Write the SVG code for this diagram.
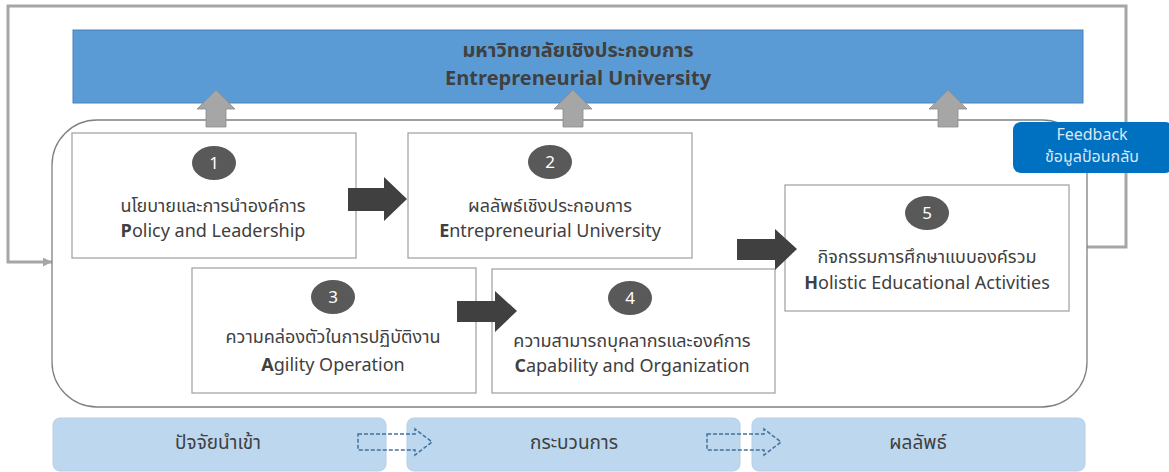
<svg xmlns="http://www.w3.org/2000/svg" width="1169" height="472" viewBox="0 0 1169 472">
<style>
  text { font-family: "Noto Sans Thai", "Noto Sans", "Liberation Sans", sans-serif; fill: #404040; text-anchor: middle; }
  .box { fill: #ffffff; stroke: #a6a6a6; stroke-width: 1.3; }
  .badge { fill: #595959; }
  .badgetxt { fill: #ffffff; font-size: 17px; }
  .lbl { font-size: 18px; }
  .banner { font-size: 20px; font-weight: bold; }
  .bar { fill: #bdd7ee; stroke: #b4cfe8; stroke-width: 1; }
  .bartxt { font-size: 19px; }
  .up { fill: #a6a6a6; stroke: #8c8c8c; stroke-width: 0.8; }
  .blk { fill: #404040; }
  .dash { fill: none; stroke: #41719c; stroke-width: 1.5; stroke-dasharray: 4 2; }
  .loop { fill: none; stroke: #a6a6a6; stroke-width: 3; }
</style>
<defs>
  <marker id="ah" viewBox="0 0 10 10" refX="10" refY="5" markerWidth="3.5" markerHeight="3" orient="auto" markerUnits="strokeWidth">
    <path d="M0,0 L10,5 L0,10 Z" fill="#a6a6a6"/>
  </marker>
</defs>
<rect width="1169" height="472" fill="#ffffff"/>

<g id="connectors">
  <path class="loop" d="M1087,247 H1126 V6 H8 V262 H52" marker-end="url(#ah)"/>
</g>

<g id="banner">
  <rect x="73" y="30" width="1010" height="73" fill="#5b9bd5" stroke="#4a82b8" stroke-width="1"/>
  <text class="banner" x="578" y="57">มหาวิทยาลัยเชิงประกอบการ</text>
  <text class="banner" x="578" y="85">Entrepreneurial University</text>
</g>

<g id="container">
  <rect x="52" y="120" width="1035" height="287" rx="45" ry="45" fill="#ffffff" stroke="#808080" stroke-width="1.3"/>
</g>

<g id="up-arrows">
  <polygon class="up" points="216,90 235,109 226,109 226,127 206,127 206,109 197,109"/>
  <polygon class="up" points="573,90 592,109 583,109 583,127 563,127 563,109 554,109"/>
  <polygon class="up" points="948,90 967,109 958,109 958,127 938,127 938,109 929,109"/>
</g>

<g id="feedback">
  <rect x="1013" y="122" width="160" height="51" rx="8" ry="8" fill="#0070c0"/>
  <text x="1092" y="140" style="fill:#dce6f2;font-size:16px">Feedback</text>
  <text x="1092" y="162" style="fill:#dce6f2;font-size:16px">ข้อมูลป้อนกลับ</text>
</g>

<g id="node1">
  <rect class="box" x="72" y="133" width="284" height="125"/>
  <ellipse class="badge" cx="214" cy="163" rx="22" ry="17"/>
  <text class="badgetxt" x="214" y="169">1</text>
  <text class="lbl" x="213" y="212">นโยบายและการนำองค์การ</text>
  <text class="lbl" x="213" y="237"><tspan font-weight="bold">P</tspan>olicy and Leadership</text>
</g>

<g id="node2">
  <rect class="box" x="408" y="133" width="284" height="125"/>
  <ellipse class="badge" cx="550" cy="162" rx="22" ry="17"/>
  <text class="badgetxt" x="550" y="168">2</text>
  <text class="lbl" x="550" y="212">ผลลัพธ์เชิงประกอบการ</text>
  <text class="lbl" x="550" y="237"><tspan font-weight="bold">E</tspan>ntrepreneurial University</text>
</g>

<g id="node3">
  <rect class="box" x="192" y="268" width="284" height="125"/>
  <ellipse class="badge" cx="333" cy="297" rx="22" ry="17"/>
  <text class="badgetxt" x="333" y="303">3</text>
  <text class="lbl" x="333" y="343">ความคล่องตัวในการปฏิบัติงาน</text>
  <text class="lbl" x="333" y="371"><tspan font-weight="bold">A</tspan>gility Operation</text>
</g>

<g id="node4">
  <rect class="box" x="492" y="269" width="283" height="124"/>
  <ellipse class="badge" cx="630" cy="298" rx="22" ry="17"/>
  <text class="badgetxt" x="630" y="304">4</text>
  <text class="lbl" x="632" y="347">ความสามารถบุคลากรและองค์การ</text>
  <text class="lbl" x="632" y="372"><tspan font-weight="bold">C</tspan>apability and Organization</text>
</g>

<g id="node5">
  <rect class="box" x="785" y="185" width="284" height="126"/>
  <ellipse class="badge" cx="927" cy="213" rx="22" ry="17"/>
  <text class="badgetxt" x="927" y="219">5</text>
  <text class="lbl" x="927" y="263">กิจกรรมการศึกษาแบบองค์รวม</text>
  <text class="lbl" x="927" y="289"><tspan font-weight="bold">H</tspan>olistic Educational Activities</text>
</g>

<g id="flow-arrows">
  <polygon class="blk" points="348,188 384,188 384,177 407,199 384,221 384,211 348,211"/>
  <polygon class="blk" points="457,301 495,301 495,291 517,311 495,332 495,322 457,322"/>
  <polygon class="blk" points="737,239 775,239 775,229 797,249 775,270 775,260 737,260"/>
</g>

<g id="bar-input">
  <rect class="bar" x="53" y="418" width="333" height="53" rx="7" ry="7"/>
  <text class="bartxt" x="218" y="449">ปัจจัยนำเข้า</text>
</g>
<g id="bar-process">
  <rect class="bar" x="407" y="418" width="333" height="53" rx="7" ry="7"/>
  <text class="bartxt" x="574" y="449">กระบวนการ</text>
</g>
<g id="bar-output">
  <rect class="bar" x="752" y="418" width="333" height="53" rx="7" ry="7"/>
  <text class="bartxt" x="918" y="449">ผลลัพธ์</text>
</g>

<g id="dashed-arrows">
  <polygon class="dash" points="358,434 415,434 415,429 432,442 415,455 415,450 358,450"/>
  <polygon class="dash" points="707,434 764,434 764,429 781,442 764,455 764,450 707,450"/>
</g>
</svg>
